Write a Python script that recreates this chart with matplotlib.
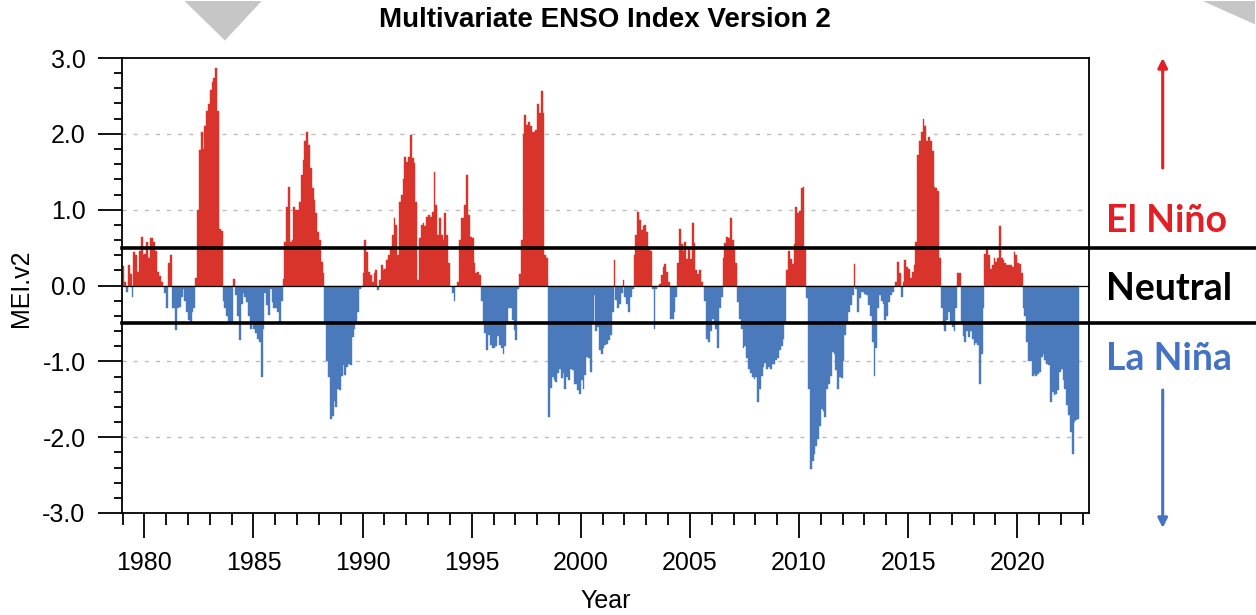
# Multivariate ENSO Index (MEI.v2) bar chart with El Nino / La Nina bands
import numpy as np
import matplotlib.pyplot as plt
from matplotlib import transforms
from matplotlib.patches import Polygon
from matplotlib.ticker import MultipleLocator, FormatStrFormatter

first_year = 1979

# monthly MEI.v2 values (Jan..Dec per row)
mei_1979_1983 = [
    0.26, 0.05, -0.08, 0.27, 0.15, -0.15, 0.44, 0.40, 0.18, 0.45, 0.64, 0.40,
    0.42, 0.58, 0.36, 0.62, 0.62, 0.58, 0.45, 0.18, 0.12, 0.05, 0.00, -0.10,
    -0.30, 0.30, 0.40, -0.30, -0.30, -0.59, -0.30, -0.28, -0.15, -0.05, -0.20, -0.35,
    -0.45, -0.48, -0.35, -0.30, 0.10, 1.00, 1.79, 2.02, 1.80, 2.10, 2.30, 2.40,
    2.58, 2.69, 2.74, 2.87, 2.30, 0.75, 0.72, -0.20, -0.30, -0.40, -0.48, -0.48,
]
mei_1984_1988 = [
    -0.50, 0.09, -0.13, -0.40, -0.72, -0.25, -0.10, -0.15, -0.22, -0.40, -0.57, -0.50,
    -0.57, -0.62, -0.70, -0.75, -1.20, -0.57, -0.10, -0.26, -0.39, -0.05, -0.22, -0.30,
    -0.30, -0.35, -0.48, -0.20, 0.09, 0.58, 1.04, 1.30, 0.58, 0.60, 1.04, 1.00,
    1.00, 1.10, 1.46, 1.66, 1.90, 2.02, 1.85, 1.55, 1.28, 1.13, 0.95, 0.71,
    0.60, 0.31, 0.16, -0.48, -1.00, -1.20, -1.76, -1.72, -1.52, -1.60, -1.36, -1.38,
]
mei_1989_1993 = [
    -1.19, -1.05, -1.18, -1.08, -1.03, -1.05, -0.68, -0.57, -0.48, -0.35, -0.05, -0.02,
    0.16, 0.60, 0.44, 0.18, 0.14, 0.05, 0.16, 0.20, -0.06, 0.07, 0.27, 0.20,
    0.22, 0.33, 0.40, 0.49, 0.66, 0.89, 0.80, 0.40, 1.10, 1.19, 1.41, 1.70,
    1.63, 1.70, 1.99, 1.68, 1.61, 1.10, 0.07, 0.62, 0.80, 0.82, 0.78, 0.90,
    0.93, 0.90, 0.97, 1.50, 1.06, 0.66, 0.89, 0.66, 0.60, 0.95, 0.66, 0.30,
]
mei_1994_1998 = [
    0.00, -0.10, -0.20, 0.00, 0.05, 0.60, 0.89, 0.89, 1.06, 1.46, 0.93, 0.64,
    0.62, 0.30, 0.16, 0.18, 0.14, -0.20, -0.50, -0.63, -0.85, -0.65, -0.79, -0.83,
    -0.83, -0.80, -0.66, -0.79, -0.83, -0.90, -0.80, -0.50, -0.30, -0.30, -0.46, -0.59,
    -0.72, -0.05, 0.15, 0.60, 2.00, 2.25, 2.12, 2.15, 2.10, 2.03, 2.03, 2.05,
    2.40, 2.27, 2.56, 2.27, 0.40, 0.36, -1.74, -1.35, -1.21, -1.25, -1.27, -1.15,
]
mei_1999_2003 = [
    -1.10, -1.22, -1.15, -1.36, -1.21, -1.25, -1.10, -1.12, -1.30, -1.30, -1.38, -1.43,
    -1.25, -1.36, -1.18, -0.94, -0.96, -1.14, -0.50, -0.13, -0.60, -0.55, -0.85, -0.90,
    -0.83, -0.79, -0.77, -0.72, -0.65, -0.35, 0.33, -0.19, -0.30, -0.24, -0.10, 0.07,
    -0.15, -0.25, -0.35, -0.15, -0.05, 0.40, 0.66, 0.97, 0.86, 0.73, 0.78, 0.80,
    0.70, 0.49, 0.45, -0.05, -0.57, -0.05, 0.00, 0.02, 0.14, 0.25, 0.29, 0.18,
]
mei_2004_2008 = [
    0.05, -0.44, -0.44, -0.35, -0.15, 0.30, 0.75, 0.55, 0.45, 0.58, 0.35, 0.50,
    0.35, 0.82, 0.56, 0.20, 0.15, 0.20, 0.05, 0.00, -0.20, -0.70, -0.74, -0.60,
    -0.44, -0.48, -0.57, -0.83, -0.30, -0.15, 0.36, 0.56, 0.64, 0.62, 0.89, 0.60,
    0.50, 0.30, -0.22, -0.44, -0.57, -0.83, -0.80, -0.96, -1.10, -1.15, -1.21, -1.23,
    -1.20, -1.54, -1.36, -1.19, -1.08, -1.02, -1.10, -1.08, -1.10, -1.03, -1.03, -0.98,
]
mei_2009_2013 = [
    -0.95, -0.85, -0.80, -0.70, -0.50, 0.20, 0.45, 0.35, 0.29, 0.55, 1.04, 0.96,
    0.98, 1.28, 1.30, 0.49, -0.17, -1.36, -2.42, -2.31, -2.22, -2.11, -2.02, -1.85,
    -1.63, -1.65, -1.74, -1.36, -1.30, -1.19, -0.88, -0.90, -1.12, -1.36, -1.20, -1.22,
    -1.00, -0.65, -0.50, -0.35, -0.26, -0.13, 0.29, -0.05, -0.35, -0.17, -0.08, -0.08,
    -0.11, -0.13, -0.26, -0.40, -0.74, -1.19, -0.83, -0.30, -0.13, -0.20, -0.25, -0.45,
]
mei_2014_2018 = [
    -0.40, -0.22, -0.13, -0.08, -0.02, 0.05, 0.31, 0.16, -0.15, 0.05, 0.33, 0.25,
    0.22, 0.10, 0.18, 0.27, 0.58, 1.72, 1.90, 2.03, 2.20, 2.10, 1.90, 1.96,
    1.90, 1.77, 1.30, 1.28, 1.24, 0.36, -0.30, -0.52, -0.60, -0.45, -0.35, -0.50,
    -0.55, -0.60, -0.30, 0.16, 0.16, -0.50, -0.66, -0.74, -0.60, -0.68, -0.60, -0.70,
    -0.79, -0.76, -0.79, -1.30, -0.90, -0.30, 0.42, 0.49, 0.40, 0.22, 0.27, 0.36,
]
mei_2019_2022 = [
    0.31, 0.36, 0.78, 0.36, 0.34, 0.30, 0.27, 0.27, 0.27, 0.25, 0.44, 0.40,
    0.30, 0.28, 0.16, -0.30, -0.40, -0.74, -0.99, -1.00, -1.19, -1.17, -1.19, -1.17,
    -1.14, -0.94, -0.90, -0.98, -1.04, -1.05, -1.54, -1.40, -1.45, -1.43, -1.38, -1.14,
    -1.10, -1.25, -1.36, -1.58, -1.71, -1.93, -2.22, -1.80, -1.77, -1.76,
]

thresholds = [0.5, -0.5]
grid_levels = [-2, -1, 1, 2]

red = '#d9342b'
blue = '#4a7abc'
text_red = '#e31e24'
text_blue = '#4472c4'

mei = np.array(mei_1979_1983 + mei_1984_1988 + mei_1989_1993 + mei_1994_1998
               + mei_1999_2003 + mei_2004_2008 + mei_2009_2013 + mei_2014_2018
               + mei_2019_2022)
t = first_year + (np.arange(len(mei)) + 0.5) / 12.0

plt.rcParams['font.family'] = ['Liberation Sans', 'DejaVu Sans']

W, H = 1256, 615
fig = plt.figure(figsize=(W / 100, H / 100), dpi=100)
ax_l, ax_r, ax_t, ax_b = 121.7, 1089, 58, 513
ax = fig.add_axes([ax_l / W, 1 - ax_b / H, (ax_r - ax_l) / W, (ax_b - ax_t) / H])

colors = np.where(mei >= 0, red, blue)
ax.bar(t, mei, width=1 / 12, color=colors, edgecolor=colors, linewidth=0.3, zorder=2)

for g in grid_levels:
    ax.axhline(g, color='#bdbdbd', lw=1.0, ls=(0, (3, 5)), zorder=1)
ax.axhline(0, color='black', lw=0.9, zorder=3)

# threshold lines run from the axes out to the right edge of the figure
trans = transforms.blended_transform_factory(fig.transFigure, ax.transData)
for th in thresholds:
    ax.plot([ax_l / W, 1.0], [th, th], transform=trans, color='black', lw=2.6,
            clip_on=False, zorder=5, scalex=False, scaley=False)

ax.set_xlim(1978.96, 2023.29)
ax.set_ylim(-3, 3)
ax.xaxis.set_major_locator(MultipleLocator(5))
ax.xaxis.set_minor_locator(MultipleLocator(1))
ax.yaxis.set_major_locator(MultipleLocator(1))
ax.yaxis.set_minor_locator(MultipleLocator(0.2))
ax.yaxis.set_major_formatter(FormatStrFormatter('%.1f'))
ax.tick_params(which='both', direction='out', top=False, right=False, width=1.3)
ax.tick_params(axis='x', which='major', length=18, labelsize=18, pad=9)
ax.tick_params(axis='x', which='minor', length=8.5)
ax.tick_params(axis='y', which='major', length=17, labelsize=18, pad=9)
ax.tick_params(axis='y', which='minor', length=6)
for s in ax.spines.values():
    s.set_linewidth(1.3)

fig.text((ax_l + ax_r) / 2 / W, 1 - 20 / H, 'Multivariate ENSO Index Version 2',
         ha='center', va='center', fontsize=20, fontweight='bold')
fig.text((ax_l + ax_r) / 2 / W, 1 - 601 / H, 'Year', ha='center', va='center', fontsize=18)
fig.text(21 / W, 1 - 288 / H, 'MEI.v2', ha='center', va='center', rotation=90, fontsize=18)

# right-hand annotations
lab_font = ['Lato', 'DejaVu Sans']
fig.text(1106 / W, 1 - 232 / H, 'El Niño', color=text_red, fontsize=27,
         fontweight='bold', family=lab_font, va='baseline')
fig.text(1106 / W, 1 - 300 / H, 'Neutral', color='black', fontsize=27,
         fontweight='bold', family=lab_font, va='baseline')
fig.text(1106 / W, 1 - 370 / H, 'La Niña', color=text_blue, fontsize=27,
         fontweight='bold', family=lab_font, va='baseline')

ax.annotate('', xy=(1162.7 / W, 1 - 58 / H), xytext=(1162.7 / W, 1 - 168 / H),
            xycoords='figure fraction', textcoords='figure fraction',
            arrowprops=dict(arrowstyle='-|>', color=text_red, lw=2.2, mutation_scale=14,
                            shrinkA=0, shrinkB=0))
ax.annotate('', xy=(1162.7 / W, 1 - 528 / H), xytext=(1162.7 / W, 1 - 390 / H),
            xycoords='figure fraction', textcoords='figure fraction',
            arrowprops=dict(arrowstyle='-|>', color=text_blue, lw=2.2, mutation_scale=14,
                            shrinkA=0, shrinkB=0))

# grey slide-corner triangles
tri_left = [(182, 0), (264, 0), (225, 42)]
tri_right = [(1198, 0), (1256, 0), (1256, 26)]
for tri in (tri_left, tri_right):
    pts = [(x / W, 1 - y / H) for x, y in tri]
    fig.patches.append(Polygon(pts, closed=True, transform=fig.transFigure,
                               facecolor='#c6c6c6', edgecolor='white', lw=1.5))

fig.savefig('out.png', dpi=100)
